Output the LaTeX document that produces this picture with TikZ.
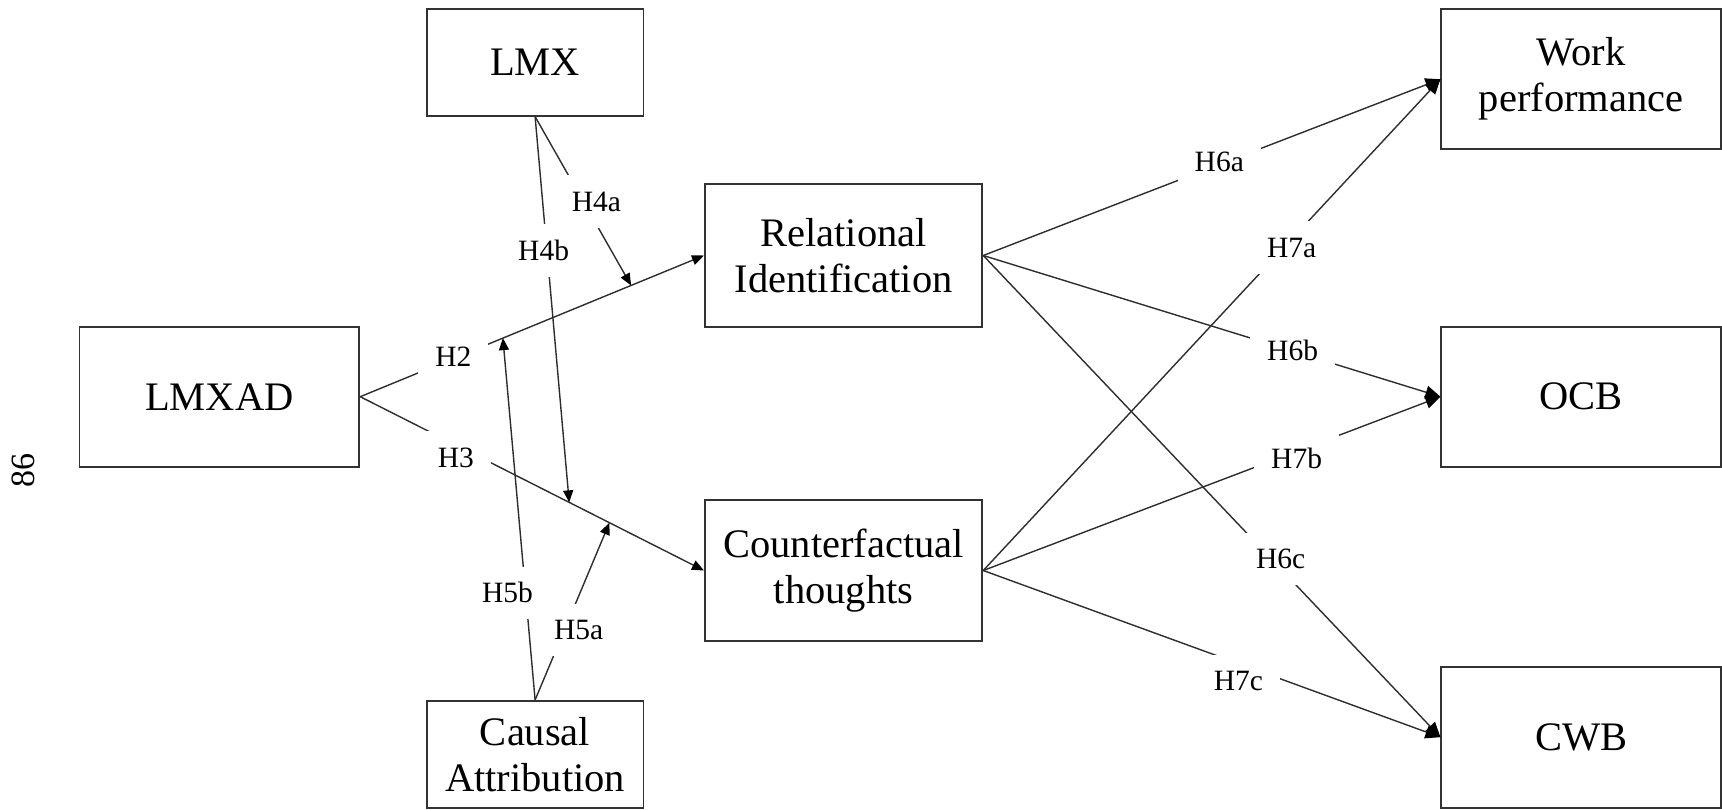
\documentclass[tikz,border=0pt]{standalone}
\usepackage{fontspec}
\setmainfont{Liberation Serif}
\usetikzlibrary{arrows.meta,calc}
\definecolor{linec}{RGB}{45,45,45}
\definecolor{boxc}{RGB}{50,50,50}
\begin{document}
\begin{tikzpicture}[x=0.5pt,y=-0.5pt,
  box/.style={draw=boxc, line width=0.95pt, fill=white, inner sep=0pt, align=center,
    font=\fontsize{20.25}{23}\selectfont},
  lab/.style={fill=white, inner xsep=8.5pt, inner ysep=8.3pt, text height=9.7pt, text depth=0pt,
    font=\fontsize{14.75}{17}\selectfont},
  conn/.style={draw=linec, line width=0.7pt},
  arr/.style={conn, -{Triangle[length=6pt,width=5pt,color=black]}},
  bigarr/.style={conn, -{Triangle[length=7.5pt,width=6.5pt,color=black]}},
]
\useasboundingbox (0,0) rectangle (1722,809);

% boxes
\node[box, minimum width=108.4pt, minimum height=53.4pt] (lmx) at (535.1,62.3) {LMX};
\node[box, minimum width=139.9pt, minimum height=70pt] (lmxad) at (219.4,396.7) {LMXAD};
\node[box, minimum width=138.7pt, minimum height=71.2pt] (ri) at (843.6,255.5) {Relational\\Identification};
\node[box, minimum width=138.7pt, minimum height=70.5pt] (ct) at (843.6,570.5) {Counterfactual\\thoughts};
\node[box, minimum width=108.4pt, minimum height=53.4pt] (ca) at (535.1,754.3) {Causal\\Attribution};
\node[box, minimum width=139.8pt, minimum height=70.2pt] (wp) at (1581.2,79.2) {Work\\performance};
\node[box, minimum width=139.8pt, minimum height=70pt] (ocb) at (1581.2,396.7) {OCB};
\node[box, minimum width=139.8pt, minimum height=70.5pt] (cwb) at (1581.2,737.2) {CWB};

% page number
\node[font=\fontsize{17}{20}\selectfont, rotate=90] (pg) at (23,470) {86};

% moderation targets on the paths
\coordinate (m4a) at ($(lmxad.east)!0.788!(ri.west)$);
\coordinate (m5b) at ($(lmxad.east)!0.415!(ri.west)$);
\coordinate (m4b) at ($(lmxad.east)!0.608!(ct.west)$);
\coordinate (m5a) at ($(lmxad.east)!0.725!(ct.west)$);

% connectors
\draw[arr] (lmxad.east) -- (ri.west);
\draw[arr] (lmxad.east) -- (ct.west);
\draw[arr] (lmx.south) -- (m4a);
\draw[arr] (lmx.south) -- (m4b);
\draw[arr] (ca.north) -- (m5a);
\draw[arr] (ca.north) -- (m5b);
\draw[bigarr] (ri.east) -- (wp.west);
\draw[bigarr] (ri.east) -- (ocb.west);
\draw[bigarr] (ri.east) -- (cwb.west);
\draw[bigarr] (ct.east) -- (wp.west);
\draw[bigarr] (ct.east) -- (ocb.west);
\draw[bigarr] (ct.east) -- (cwb.west);

% labels
\node[lab] (l2) at (453.4,356.7) {H2};
\node[lab] (l3) at (455.8,457.5) {H3};
\node[lab] (l4a) at (596.5,201.7) {H4a};
\node[lab] (l4b) at (543.6,250.5) {H4b};
\node[lab] (l5a) at (578.6,630) {H5a};
\node[lab] (l5b) at (507.4,592.8) {H5b};
\node[lab] (l6a) at (1219.3,162) {H6a};
\node[lab] (l6b) at (1292.6,350.5) {H6b};
\node[lab] (l6c) at (1280.7,559) {H6c};
\node[lab] (l7a) at (1291.7,247.5) {H7a};
\node[lab] (l7b) at (1296.6,459) {H7b};
\node[lab] (l7c) at (1238.5,680.8) {H7c};
\end{tikzpicture}
\end{document}
